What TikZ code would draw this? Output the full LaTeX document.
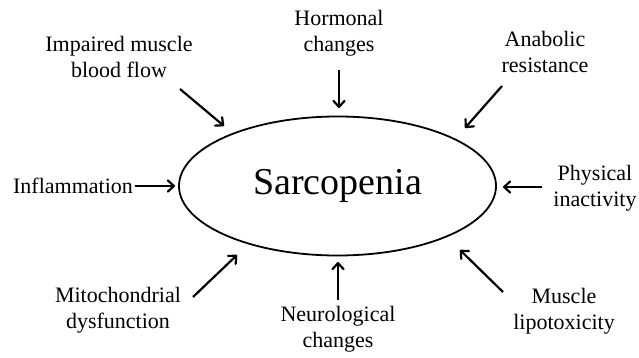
\documentclass[tikz,border=0pt]{standalone}
\usepackage{fontspec}
\setmainfont{Liberation Serif}
\usetikzlibrary{shapes.geometric,arrows.meta}

\tikzset{
    cause/.style={align=center, inner sep=0pt, font=\fontsize{22}{26}\selectfont},
    push/.style={line width=2.2pt, -{Straight Barb[length=6pt,width=11pt,line join=round,line cap=round]}}
}

\begin{document}
\begin{tikzpicture}[x=1pt, y=-1pt]
    \useasboundingbox (0,0) rectangle (639,358);

    % Central ellipse
    \node[draw, line width=1.8pt, ellipse, minimum width=317pt, minimum height=139pt,
          inner sep=0pt, font=\fontsize{38}{44}\selectfont] (sarc) at (337.5,186) {Sarcopenia};

    % Causes
    \node[cause] (blood) at (119,57) {Impaired muscle\\blood flow};
    \node[cause] (horm)  at (339,33) {Hormonal\\changes};
    \node[cause] (anab)  at (545,52) {Anabolic\\resistance};
    \node[cause] (infl)  at (73,186) {Inflammation};
    \node[cause] (phys)  at (595,188) {Physical\\inactivity};
    \node[cause] (mito)  at (118,310) {Mitochondrial\\dysfunction};
    \node[cause] (neuro) at (338,329) {Neurological\\changes};
    \node[cause] (lipo)  at (564,311) {Muscle\\lipotoxicity};

    % Arrow ends
    \coordinate (blood-s) at (180,89);  \coordinate (blood-e) at (224,126);
    \coordinate (horm-s)  at (339,70);  \coordinate (horm-e)  at (339,108);
    \coordinate (anab-s)  at (502,86);  \coordinate (anab-e)  at (465,128);
    \coordinate (infl-s)  at (135,186); \coordinate (infl-e)  at (175,186);
    \coordinate (phys-s)  at (542,187); \coordinate (phys-e)  at (503,187);
    \coordinate (mito-s)  at (193,297); \coordinate (mito-e)  at (237,255);
    \coordinate (neuro-s) at (338,300); \coordinate (neuro-e) at (338,262);
    \coordinate (lipo-s)  at (503,292); \coordinate (lipo-e)  at (460,250);

    % Arrows
    \foreach \n in {blood,horm,anab,infl,phys,mito,neuro,lipo}
        \draw[push] (\n-s) -- (\n-e);
\end{tikzpicture}
\end{document}
